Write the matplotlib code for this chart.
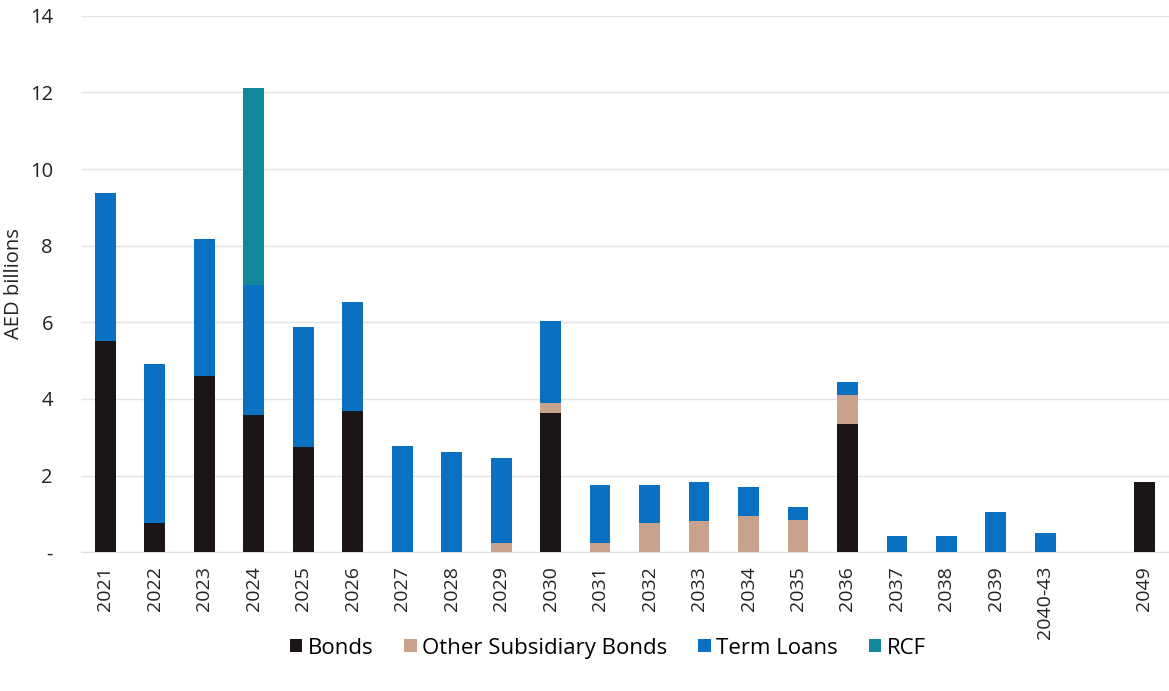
import matplotlib.pyplot as plt
import numpy as np

plt.rcParams['font.family'] = ['Open Sans', 'DejaVu Sans']

years = ["2021", "2022", "2023", "2024", "2025", "2026", "2027", "2028", "2029", "2030",
         "2031", "2032", "2033", "2034", "2035", "2036", "2037", "2038", "2039", "2040-43",
         "", "2049"]
bonds = [5.52, 0.76, 4.60, 3.58, 2.75, 3.68, 0, 0, 0, 3.64,
         0, 0, 0, 0, 0, 3.34, 0, 0, 0, 0, 0, 1.84]
other_bonds = [0, 0, 0, 0, 0, 0, 0, 0, 0.23, 0.26,
               0.25, 0.77, 0.82, 0.94, 0.85, 0.76, 0, 0, 0, 0, 0, 0]
term_loans = [3.85, 4.15, 3.57, 3.39, 3.13, 2.86, 2.76, 2.62, 2.23, 2.14,
              1.49, 0.97, 1.01, 0.77, 0.33, 0.35, 0.43, 0.43, 1.05, 0.49, 0, 0]
rcf = [0, 0, 0, 5.14, 0, 0, 0, 0, 0, 0,
       0, 0, 0, 0, 0, 0, 0, 0, 0, 0, 0, 0]

colors = ["#1b1517", "#c9a28c", "#0a70c2", "#12899b"]

fig = plt.figure(figsize=(11.69, 6.91), dpi=100)
ax = fig.add_axes([0.069, 0.201, 0.931, 0.776])

x = np.arange(len(years))
w = 0.42
b1 = np.array(bonds)
b2 = b1 + np.array(other_bonds)
b3 = b2 + np.array(term_loans)
ax.bar(x, bonds, w, color=colors[0], label='Bonds', zorder=3)
ax.bar(x, other_bonds, w, bottom=b1, color=colors[1], label='Other Subsidiary Bonds', zorder=3)
ax.bar(x, term_loans, w, bottom=b2, color=colors[2], label='Term Loans', zorder=3)
ax.bar(x, rcf, w, bottom=b3, color=colors[3], label='RCF', zorder=3)

ax.set_xlim(-0.5, len(years) - 0.5)
ax.set_ylim(0, 14)
ax.set_yticks(np.arange(0, 15, 2))
ax.set_yticklabels(['-'] + [str(v) for v in range(2, 15, 2)])
ax.set_xticks(x)
ax.set_xticklabels(years, rotation=90)
ax.tick_params(axis='both', length=0, colors='#222222')
ax.tick_params(axis='x', labelsize=14, pad=10)
ax.tick_params(axis='y', labelsize=14.5, pad=20)
ax.grid(axis='y', color='#e3e3e3', linewidth=1, zorder=0)
for s in ['top', 'right', 'left']:
    ax.spines[s].set_visible(False)
ax.spines['bottom'].set_color('#dddddd')
ax.set_ylabel('AED billions', fontsize=14.5, color='#222222')
ax.yaxis.set_label_coords(-0.052, 0.5)

fig.legend(loc='center', bbox_to_anchor=(0.52, 0.062), ncol=4, frameon=False,
           fontsize=16, handlelength=0.55, handleheight=0.55, handletextpad=0.25,
           columnspacing=1.4)

fig.savefig('out.png', dpi=100)
